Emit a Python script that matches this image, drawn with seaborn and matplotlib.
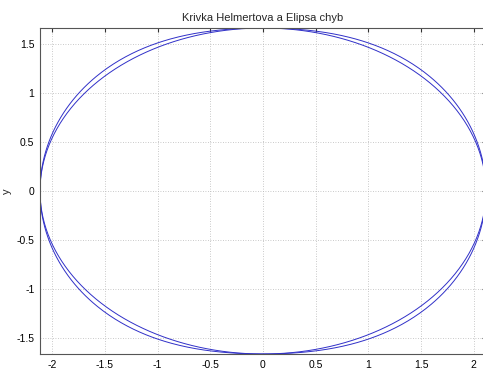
import numpy as np
import pandas as pd
import matplotlib
matplotlib.use("Agg")
import matplotlib.pyplot as plt
import seaborn as sns

# Error-ellipse parameters
semi_axes = [2.115, 1.668]   # a (x), b (y)
x_ticks = [-2, -1.5, -1, -0.5, 0, 0.5, 1, 1.5, 2]
y_ticks = [-1.5, -1, -0.5, 0, 0.5, 1, 1.5]
x_tick_labels = ["-2", "-1.5", "-1", "-0.5", "0", "0.5", "1", "1.5", "2"]
y_tick_labels = ["-1.5", "-1", "-0.5", "0", "0.5", "1", "1.5"]
title = "Krivka Helmertova a Elipsa chyb"

a, b = semi_axes
t = np.linspace(0, 2 * np.pi, 721)
# Helmert (pedal) curve
r_h = np.sqrt(a**2 * np.cos(t)**2 + b**2 * np.sin(t)**2)
helm = pd.DataFrame({"x": r_h * np.cos(t), "y": r_h * np.sin(t)})
# Error ellipse
ell = pd.DataFrame({"x": a * np.cos(t), "y": b * np.sin(t)})

sns.set_style("white")
plt.rcParams["font.family"] = ["Liberation Sans", "DejaVu Sans"]

fig = plt.figure(figsize=(4.83, 3.74), dpi=100)
ax = fig.add_axes([40 / 483, 20 / 374, 446 / 483, 326 / 374])

line_color = "#3030c8"
sns.lineplot(data=helm, x="x", y="y", sort=False, estimator=None, ax=ax,
             color=line_color, linewidth=0.7)
sns.lineplot(data=ell, x="x", y="y", sort=False, estimator=None, ax=ax,
             color=line_color, linewidth=0.7)

ax.set_xlim(-a, a)
ax.set_ylim(-b, b)
ax.set_xticks(x_ticks)
ax.set_xticklabels(x_tick_labels)
ax.set_yticks(y_ticks)
ax.set_yticklabels(y_tick_labels)
ax.grid(True, linestyle=(0, (1, 2)), color="#b8b8b8", linewidth=0.6)
ax.tick_params(direction="in", length=3, labelsize=7.5, colors="#333333",
               labelcolor="black", top=True, right=True, pad=4)
for s in ax.spines.values():
    s.set_color("#555555")
    s.set_linewidth(0.8)
ax.set_title(title, fontsize=8, pad=5)
ax.set_xlabel("x", fontsize=8, labelpad=4)
ax.set_ylabel("y", fontsize=8)
ax.yaxis.set_label_coords(-0.063, 0.5)

fig.savefig("out.png", dpi=100)
